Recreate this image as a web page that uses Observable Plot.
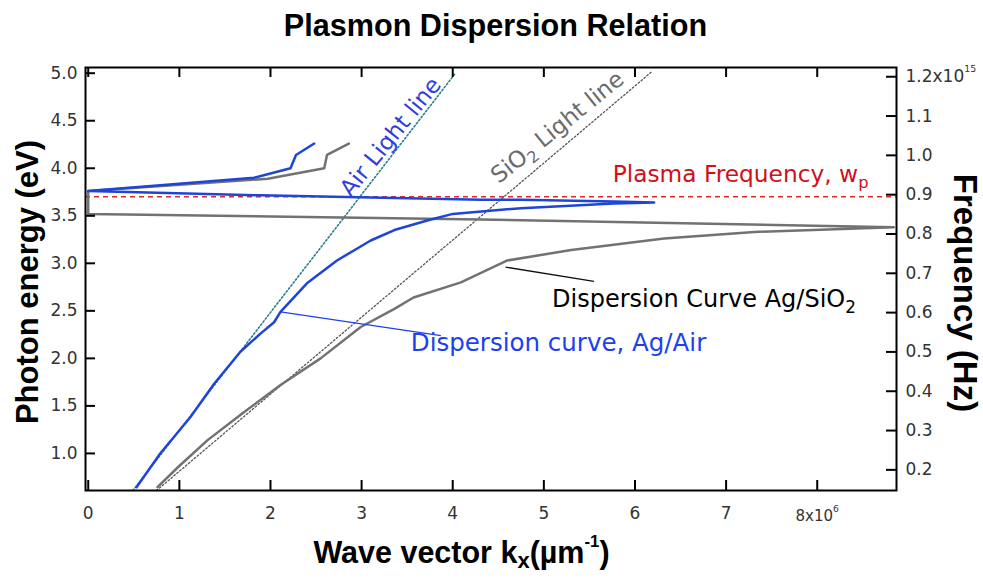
<!DOCTYPE html>
<html><head><meta charset="utf-8">
<script src="https://cdn.jsdelivr.net/npm/d3@7"></script>
<script src="https://cdn.jsdelivr.net/npm/@observablehq/plot@0.6"></script>
<style>body{margin:0;background:#fff}</style>
</head><body><div id="chart"></div>
<script>
// ---------- data ----------
const kTicks = [0, 1, 2, 3, 4, 5, 6, 7, 8];                 // x 10^6 m^-1
const eTicks = [1.0, 1.5, 2.0, 2.5, 3.0, 3.5, 4.0, 4.5, 5.0]; // eV
const freqTicks = [0.2, 0.3, 0.4, 0.5, 0.6, 0.7, 0.8, 0.9, 1.0, 1.1, 1.2]; // x 10^15 Hz
const eVper1e15Hz = 4.1357; // photon energy (eV) of 1x10^15 Hz

// Dispersion curve, Ag/Air
const airK = [0.53, 0.79, 1.12, 1.38, 1.67, 1.89, 2.04, 2.11, 2.40, 2.73, 3.10, 3.36, 3.72, 4.00, 4.75, 5.77, 6.21,
              5.77, 4.75, 4.31, 1.89, 0.00, 1.82, 2.22, 2.28, 2.48];
const airE = [0.645, 1.00, 1.38, 1.73, 2.07, 2.26, 2.38, 2.49, 2.79, 3.03, 3.24, 3.35, 3.45, 3.52, 3.58, 3.63, 3.64,
              3.65, 3.67, 3.67, 3.715, 3.76, 3.90, 4.00, 4.14, 4.26];
// Dispersion curve, Ag/SiO2
const sio2K = [0.76, 0.99, 1.31, 1.69, 2.11, 2.55, 2.99, 3.36, 3.57, 4.09, 4.60, 5.30, 6.32, 7.31, 8.84,
               4.31, 0.00, 0.00, 1.97, 2.59, 2.62, 2.86];
const sio2E = [0.645, 0.86, 1.14, 1.42, 1.72, 2.00, 2.33, 2.52, 2.64, 2.80, 3.03, 3.14, 3.26, 3.33, 3.38,
               3.46, 3.52, 3.76, 3.89, 4.00, 4.14, 4.26];
// light lines
const airLightK = [0.49, 4.03], airLightE = [0.61, 5.00];
const sio2LightK = [0.75, 6.19], sio2LightE = [0.61, 5.02];
// plasma frequency
const plasmaE = 3.70;

// annotations (anchored in data units)
const noteText = ["Air Light line", "SiO_{2} Light line", "Plasma Frequency, w_{p}",
                  "Dispersion Curve Ag/SiO_{2}", "Dispersion curve, Ag/Air"];
const noteK = [3.32, 5.15, 5.755, 5.09, 3.54];
const noteE = [4.33, 4.43, 3.856, 2.54, 2.074];
const leaderK1 = [4.58, 2.11], leaderE1 = [2.96, 2.49];
const leaderK2 = [5.55, 3.87], leaderE2 = [2.81, 2.24];

// ---------- tables ----------
const zip = (K, E) => K.map((k, i) => ({k, E: E[i]}));
const airPts = zip(airK, airE), sio2Pts = zip(sio2K, sio2E);
const airLight = zip(airLightK, airLightE), sio2Light = zip(sio2LightK, sio2LightE);
const notes = noteText.map((t, i) => ({t, k: noteK[i], E: noteE[i]}));
const leaders = leaderK1.map((k, i) => ({k1: k, E1: leaderE1[i], k2: leaderK2[i], E2: leaderE2[i]}));

const W = 983, H = 579, mt = 67, mb = 89, ml = 85, mr = 87;
const pw = W - ml - mr, ph = H - mt - mb;
const BOLD = "'Liberation Sans', Arial, Helvetica, sans-serif";
const TL = 10;
const blue = "#1f45d8", gray = "#727272";

const note = (i, o) => Plot.text([notes[i]], {x: "k", y: "E", text: "t", fontSize: 23, ...o});

const chart = Plot.plot({
  width: W, height: H, marginTop: mt, marginBottom: mb, marginLeft: ml, marginRight: mr,
  x: {domain: [-0.03, 8.87]},
  y: {domain: [0.61, 5.06]},
  style: {fontFamily: "'DejaVu Sans', sans-serif", background: "#fff", color: "#000", overflow: "visible"},
  marks: [
    Plot.line(airLight, {x: "k", y: "E", stroke: "#2b7d8c", strokeWidth: 1.6, strokeDasharray: "1.6,2.2"}),
    Plot.line(sio2Light, {x: "k", y: "E", stroke: "#555", strokeWidth: 1.3, strokeDasharray: "1.6,2.2"}),
    Plot.ruleY([plasmaE], {stroke: "#e02a2a", strokeWidth: 1.5, strokeDasharray: "5,4"}),
    Plot.line(sio2Pts, {x: "k", y: "E", stroke: gray, strokeWidth: 2.5}),
    Plot.line(airPts, {x: "k", y: "E", stroke: blue, strokeWidth: 2.5}),
    Plot.link(leaders.slice(0, 1), {x1: "k1", y1: "E1", x2: "k2", y2: "E2", stroke: "#111", strokeWidth: 1.3}),
    Plot.link(leaders.slice(1), {x1: "k1", y1: "E1", x2: "k2", y2: "E2", stroke: "#2040f0", strokeWidth: 1.3}),
    note(0, {fill: "#2f40dc", rotate: -51, lineAnchor: "middle"}),
    note(1, {fill: "#6b6b6b", rotate: -39, lineAnchor: "middle"}),
    note(2, {fill: "#d0101a", textAnchor: "start", lineAnchor: "bottom", fontSize: 23.3}),
    note(3, {fill: "#000", textAnchor: "start", lineAnchor: "bottom", fontSize: 24}),
    note(4, {fill: "#2040f0", textAnchor: "start", lineAnchor: "bottom", fontSize: 24.5}),
    // ticks (inward)
    Plot.tickX(kTicks, {x: d => d, insetTop: ph - TL, stroke: "#000", strokeWidth: 2}),
    Plot.tickX(kTicks, {x: d => d, insetBottom: ph - TL, stroke: "#000", strokeWidth: 2}),
    Plot.tickY(eTicks, {y: d => d, insetRight: pw - TL, stroke: "#000", strokeWidth: 2}),
    Plot.tickY(freqTicks, {y: f => f * eVper1e15Hz, insetLeft: pw - TL, stroke: "#000", strokeWidth: 2}),
    Plot.axisX({anchor: "bottom", ticks: kTicks, tickSize: 0, tickPadding: 16, fontSize: 17, fill: "#333", label: null,
      tickFormat: d => d === 8 ? "8x10^{6}" : String(d)}),
    Plot.axisY({anchor: "left", ticks: eTicks, tickSize: 0, tickPadding: 8, fontSize: 17, fill: "#333", label: null,
      tickFormat: d3.format(".1f")}),
    Plot.axisY({anchor: "right", ticks: freqTicks.map(f => f * eVper1e15Hz), tickSize: 0, tickPadding: 9, fontSize: 17,
      fill: "#333", label: null,
      tickFormat: d => { const f = d / eVper1e15Hz; return Math.abs(f - 1.2) < 1e-6 ? "1.2x10^{15}" : d3.format(".1f")(f); }}),
    Plot.frame({stroke: "#000", strokeWidth: 2}),
    // titles
    Plot.text(["Plasmon Dispersion Relation"], {frameAnchor: "top", dx: 4.5, dy: -32, lineAnchor: "bottom",
      fontSize: 30.6, fontWeight: "bold", fontFamily: BOLD, fill: "#000"}),
    Plot.text(["Photon energy (eV)"], {frameAnchor: "left", dx: -48, dy: 3, rotate: -90, lineAnchor: "bottom",
      textAnchor: "middle", fontSize: 31, fontWeight: "bold", fontFamily: BOLD, fill: "#000"}),
    Plot.text(["Frequency (Hz)"], {frameAnchor: "right", dx: 57, dy: 14, rotate: 90, lineAnchor: "bottom",
      textAnchor: "middle", fontSize: 33, fontWeight: "bold", fontFamily: BOLD, fill: "#000"}),
    Plot.text(["Wave vector k_{x}(µm^{-1})"], {frameAnchor: "bottom", dx: -29.5, dy: 72, lineAnchor: "bottom",
      fontSize: 30.5, fontWeight: "bold", fontFamily: BOLD, fill: "#000"})
  ]
});
document.getElementById("chart").appendChild(chart);

// turn _{..} / ^{..} into real sub/superscript tspans
function richify(el, o) {
  const s = el.textContent;
  const fs = parseFloat(getComputedStyle(el).fontSize);
  const parts = s.split(/([_^]\{[^}]*\})/).filter(p => p);
  el.textContent = "";
  let cur = 0;
  for (const p of parts) {
    const t = document.createElementNS("http://www.w3.org/2000/svg", "tspan");
    const m = p.match(/^([_^])\{(.*)\}$/);
    let target = 0;
    if (m) {
      t.textContent = m[2];
      const sup = m[1] === "^";
      t.setAttribute("font-size", (sup ? o.supScale : o.subScale) * fs);
      target = sup ? -o.supShift * fs : o.subShift * fs;
    } else t.textContent = p;
    if (target - cur) t.setAttribute("dy", target - cur);
    cur = target;
    el.appendChild(t);
  }
}
chart.querySelectorAll("text").forEach(el => {
  const s = el.textContent;
  if (!/[_^]\{/.test(s)) return;
  if (s.startsWith("8x10")) {
    el.setAttribute("font-size", 15);
    el.setAttribute("dy", 4);
    richify(el, {supScale: 0.62, supShift: 0.6, subScale: 0.7, subShift: 0.2});
  } else if (s.includes("x10")) {
    richify(el, {supScale: 0.55, supShift: 0.62, subScale: 0.7, subShift: 0.2});
  } else if (s.includes("µm")) {
    richify(el, {supScale: 0.55, supShift: 0.5, subScale: 0.72, subShift: 0.17});
  } else {
    richify(el, {supScale: 0.7, supShift: 0.35, subScale: 0.7, subShift: 0.25});
  }
});
</script>
</body></html>
